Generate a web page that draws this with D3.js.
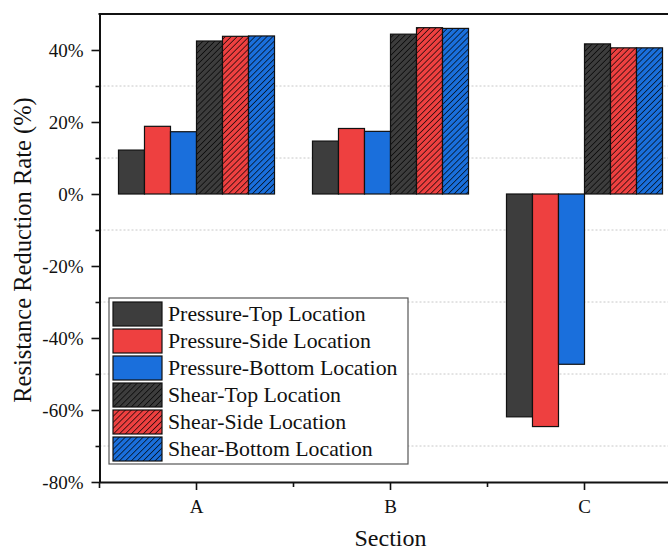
<!DOCTYPE html>
<html>
<head>
<meta charset="utf-8">
<script src="https://cdn.jsdelivr.net/npm/d3@7"></script>
<style>
  html, body { margin: 0; padding: 0; background: #fff; }
  svg { display: block; }
  svg text { font-family: "Liberation Serif", "Times New Roman", serif; }
</style>
</head>
<body>
<svg id="chart" width="668" height="551"></svg>
<script>
// ---- data ----
const categories = ["A", "B", "C"];
const seriesNames = [
  "Pressure-Top Location",
  "Pressure-Side Location",
  "Pressure-Bottom Location",
  "Shear-Top Location",
  "Shear-Side Location",
  "Shear-Bottom Location"
];
const pressureTop    = [12.2, 14.7, -61.9];
const pressureSide   = [18.8, 18.2, -64.6];
const pressureBottom = [17.3, 17.4, -47.3];
const shearTop       = [42.5, 44.4, 41.7];
const shearSide      = [43.8, 46.2, 40.6];
const shearBottom    = [43.9, 46.0, 40.6];
const seriesValues = [pressureTop, pressureSide, pressureBottom, shearTop, shearSide, shearBottom];
const yTicks = [-80, -60, -40, -20, 0, 20, 40];
const yMinorTicks = [-70, -50, -30, -10, 10, 30];

// ---- styles ----
const fills = ["#3d3d3d", "#ee4040", "#1a6fdc", "#3d3d3d", "#ee4040", "#1a6fdc"];
const hatched = [false, false, false, true, true, true];
const serif = '"Liberation Serif", "Times New Roman", serif';

const svg = d3.select("#chart");
const margin = { left: 99.5, top: 14, bottom: 482 };
const plotRight = 681.5;

const x0 = d3.scaleBand().domain(categories).range([margin.left, plotRight]).paddingInner(0).paddingOuter(0);
const x1 = d3.scaleBand().domain(d3.range(seriesNames.length)).range([0, x0.bandwidth()]).paddingInner(0).paddingOuter(0.73);
const y = d3.scaleLinear().domain([-80, 50]).range([margin.bottom, margin.top]);

// patterns
const defs = svg.append("defs");
fills.forEach((c, i) => {
  if (!hatched[i]) return;
  const p = defs.append("pattern")
    .attr("id", "hatch" + i)
    .attr("patternUnits", "userSpaceOnUse")
    .attr("width", 4.2).attr("height", 4.2)
    .attr("patternTransform", "rotate(45)");
  p.append("rect").attr("width", 4.2).attr("height", 4.2).attr("fill", c);
  p.append("line").attr("x1", 0).attr("y1", 0).attr("x2", 0).attr("y2", 4.2)
    .attr("stroke", "#000").attr("stroke-width", 1.3);
});
const fillOf = i => hatched[i] ? `url(#hatch${i})` : fills[i];

// grid lines (minor positions, dotted)
svg.append("g").selectAll("line").data(yMinorTicks).join("line")
  .attr("x1", margin.left).attr("x2", plotRight)
  .attr("y1", d => y(d)).attr("y2", d => y(d))
  .attr("stroke", "#c8c8c8").attr("stroke-width", 1).attr("stroke-dasharray", "2,2");

// bars
const barData = [];
categories.forEach((c, ci) => seriesValues.forEach((vals, si) => barData.push({ c, si, v: vals[ci] })));
svg.append("g").selectAll("rect").data(barData).join("rect")
  .attr("x", d => x0(d.c) + x1(d.si))
  .attr("width", x1.bandwidth())
  .attr("y", d => y(Math.max(0, d.v)))
  .attr("height", d => Math.abs(y(d.v) - y(0)))
  .attr("fill", d => fillOf(d.si))
  .attr("stroke", "#111").attr("stroke-width", 1.2);

// y axis
const yAxis = svg.append("g").attr("transform", `translate(${margin.left},0)`)
  .call(d3.axisLeft(y).tickValues(yTicks).tickSize(8).tickFormat(d => d + "%").tickSizeOuter(0));
yAxis.attr("font-family", null).style("font-family", serif);
yAxis.select(".domain").attr("stroke", "#111").attr("stroke-width", 2);
yAxis.selectAll(".tick line").attr("stroke", "#111").attr("stroke-width", 1.6);
yAxis.selectAll(".tick text").attr("font-size", 19).attr("fill", "#111")
  .style("font-family", serif).attr("x", -16);
svg.append("g").attr("transform", `translate(${margin.left},0)`)
  .call(d3.axisLeft(y).tickValues(yMinorTicks).tickSize(4).tickFormat(""))
  .call(g => g.select(".domain").remove())
  .selectAll("line").attr("stroke", "#111").attr("stroke-width", 1.6);

// x axis
const xAxis = svg.append("g").attr("transform", `translate(0,${margin.bottom})`)
  .call(d3.axisBottom(x0).tickSize(8).tickSizeOuter(0));
xAxis.attr("font-family", null).style("font-family", serif);
xAxis.select(".domain").attr("stroke", "#111").attr("stroke-width", 2);
xAxis.selectAll(".tick line").attr("stroke", "#111").attr("stroke-width", 1.6);
xAxis.selectAll(".tick text").attr("font-size", 19).attr("fill", "#111")
  .style("font-family", serif).attr("dy", 0).attr("y", 31);
// category boundary ticks (minor)
const boundaries = [margin.left].concat(categories.slice(1).map(c => x0(c)));
svg.append("g").selectAll("line").data(boundaries).join("line")
  .attr("x1", d => d).attr("x2", d => d)
  .attr("y1", margin.bottom).attr("y2", (d, i) => margin.bottom + (i === 0 ? 6 : 5))
  .attr("stroke", "#111").attr("stroke-width", 1.6);

// top spine
svg.append("line").attr("x1", margin.left - 1).attr("x2", plotRight)
  .attr("y1", margin.top).attr("y2", margin.top)
  .attr("stroke", "#111").attr("stroke-width", 2);

// axis titles
svg.append("text")
  .attr("transform", `translate(31,${(margin.top + margin.bottom) / 2 + 2}) rotate(-90)`)
  .attr("text-anchor", "middle").attr("font-size", 24.5).attr("fill", "#111")
  .text("Resistance Reduction Rate (%)");
svg.append("text")
  .attr("x", x0("B") + x0.bandwidth() / 2).attr("y", 546)
  .attr("text-anchor", "middle").attr("font-size", 24).attr("fill", "#111")
  .text("Section");

// legend
const legend = svg.append("g").attr("transform", "translate(109,298)");
legend.append("rect").attr("x", 0).attr("y", 0).attr("width", 299).attr("height", 166)
  .attr("fill", "#fff").attr("stroke", "#555").attr("stroke-width", 1.2);
const rows = legend.selectAll("g.row").data(seriesNames).join("g")
  .attr("class", "row")
  .attr("transform", (d, i) => `translate(4,${4 + i * 27})`);
rows.append("rect").attr("width", 49).attr("height", 24)
  .attr("fill", (d, i) => fillOf(i)).attr("stroke", "#111").attr("stroke-width", 1.2);
rows.append("text").attr("x", 55).attr("y", 19)
  .attr("font-size", 21.8).attr("fill", "#111").text(d => d);
</script>
</body>
</html>
